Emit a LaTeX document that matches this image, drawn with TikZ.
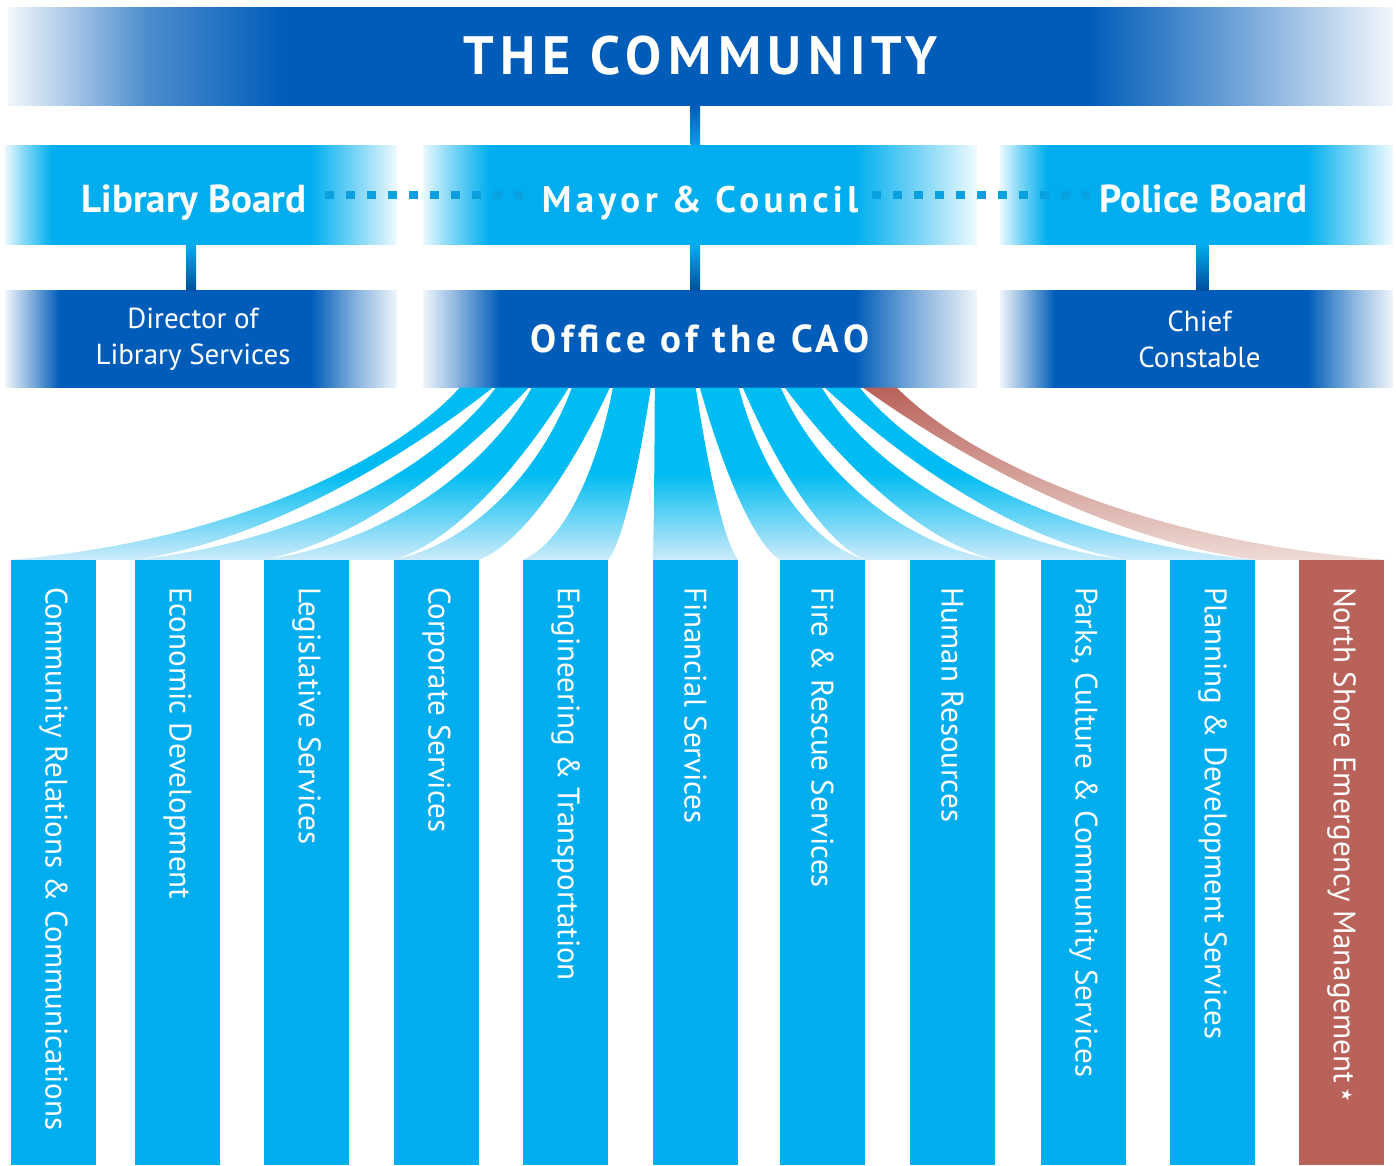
\documentclass[tikz,border=0pt]{standalone}
\usepackage{fontspec}
\setmainfont{PT Sans}
\newfontfamily\spaced[LetterSpace=12]{PT Sans}
\newfontfamily\starfont{DejaVu Sans}
\usetikzlibrary{calc,positioning}

\definecolor{cobalt}{HTML}{005CB9}
\definecolor{cyanbox}{HTML}{00AEEF}
\definecolor{fantop}{HTML}{00BCF2}
\definecolor{fanlow}{HTML}{CDEBFA}
\definecolor{rust}{HTML}{B9625A}
\definecolor{rustlow}{HTML}{EEDBD6}
\definecolor{dotblue}{HTML}{0AA0DF}

\pgfdeclarehorizontalshading{bannerfade}{100bp}{color(0bp)=(cobalt!5!white); color(25bp)=(cobalt!5!white);
  color(30bp)=(cobalt!70!white); color(35bp)=(cobalt); color(64bp)=(cobalt);
  color(69.5bp)=(cobalt!55!white); color(75bp)=(cobalt!5!white); color(100bp)=(cobalt!5!white)}
\pgfdeclarehorizontalshading{cyanfade}{100bp}{color(0bp)=(cyanbox!8!white); color(25bp)=(cyanbox!8!white);
  color(27.5bp)=(cyanbox!50!white); color(31bp)=(cyanbox); color(64bp)=(cyanbox);
  color(70bp)=(cyanbox!50!white); color(75bp)=(cyanbox!6!white); color(100bp)=(cyanbox!6!white)}
\pgfdeclarehorizontalshading{cobaltfade}{100bp}{color(0bp)=(cobalt!6!white); color(25bp)=(cobalt!6!white);
  color(28bp)=(cobalt!45!white); color(32bp)=(cobalt); color(64bp)=(cobalt);
  color(70bp)=(cobalt!45!white); color(75bp)=(cobalt!6!white); color(100bp)=(cobalt!6!white)}
\pgfdeclareverticalshading{bluefan}{100bp}{color(0bp)=(fanlow); color(25bp)=(fanlow);
  color(50bp)=(fantop); color(100bp)=(fantop)}
\pgfdeclareverticalshading{redfan}{100bp}{color(0bp)=(rustlow); color(25bp)=(rustlow);
  color(75bp)=(rust); color(100bp)=(rust)}

\begin{document}
\begin{tikzpicture}[x=1pt, y=-1pt,
    banner/.style={shade, shading=bannerfade, minimum width=1385pt, minimum height=98pt, inner sep=0pt, text=white},
    board/.style={shade, shading=cyanfade, minimum height=99pt, inner sep=0pt, text=white,
      text height=40pt, text depth=5pt, font=\bfseries\fontsize{39}{39}\selectfont},
    office/.style={shade, shading=cobaltfade, minimum height=97pt, inner sep=0pt, text=white, align=center,
      font=\fontsize{29}{36}\selectfont},
    dept/.style={fill=#1, minimum width=85pt, minimum height=605pt, inner sep=0pt},
    depttext/.style={rotate=-90, anchor=west, inner sep=0pt, text=white, font=\fontsize{31}{31}\selectfont},
    dotline/.style={dotblue, line width=8pt, dash pattern=on 9pt off 12pt},
  ]
\useasboundingbox (0,0) rectangle (1396,1165);

% top of the tree
\node[banner] (community) at (700.5,56) {\spaced\bfseries\fontsize{54}{54}\selectfont THE COMMUNITY};

\node[board, minimum width=392pt] (library) at (201,194.5) {Library Board\kern14pt};
\node[board, minimum width=554pt] (mayor) at (700,194.5) {\spaced\fontsize{37}{37}\selectfont Mayor \& Council};
\node[board, minimum width=393pt] (police) at (1196.5,194.5) {\kern14pt Police Board};

\node[office, minimum width=392pt, below=46pt of library] (director) {Director of\kern16pt\\Library Services\kern16pt};
\node[office, minimum width=554pt, below=46pt of mayor] (cao)
  {\spaced\bfseries\fontsize{39}{39}\selectfont Office of the CAO};
\node[office, minimum width=393pt, below=46pt of police] (chief) {\kern6pt Chief\\\kern6pt Constable};

% stems between the boxes
\shade[top color=cobalt, bottom color=cyanbox!80!cobalt] ($(community.south)+(-10,0)$) rectangle (mayor.north);
\shade[top color=cyanbox, bottom color=cobalt!85!black] ($(library.south)+(-15,0)$) rectangle ($(director.north)+(-5,0)$);
\shade[top color=cyanbox, bottom color=cobalt!85!black] ($(mayor.south)+(-10,0)$) rectangle (cao.north);
\shade[top color=cyanbox, bottom color=cobalt!85!black] (police.south) rectangle ($(chief.north)+(12,0)$);

\draw[dotline] ($(library.east)+(-72,0)$) -- ($(mayor.west)+(108,0)$);
\draw[dotline] ($(mayor.east)+(-105,0)$) -- ($(police.west)+(90,0)$);

% departments
\foreach \name/\x/\clr/\txt in {
    comms/53.5/cyanbox/{Community Relations \& Communications},
    econ/177.5/cyanbox/{Economic Development},
    legis/306.5/cyanbox/{Legislative Services},
    corp/436.5/cyanbox/{Corporate Services},
    eng/565.5/cyanbox/{Engineering \& Transportation},
    fin/695.5/cyanbox/{Financial Services},
    fire/822.5/cyanbox/{Fire \& Rescue Services},
    hr/952.5/cyanbox/{Human Resources},
    parks/1083.5/cyanbox/{Parks, Culture \& Community Services},
    plan/1212.5/cyanbox/{Planning \& Development Services},
    nsem/1341.5/rust/{North Shore Emergency Management\,\raisebox{.25em}{\starfont\fontsize{15}{15}\selectfont ★}}}
{
  \node[dept=\clr] (\name) at (\x,862.5) {};
  \node[depttext] at ($(\name.north)+(0,27)$) {\txt};
}

% fan from the CAO down to each department
\foreach \tl/\tr/\bl/\br/\s/\fan in {
    37/70/comms.north west/econ.north west/1/bluefan,
    73/106/econ.north west/legis.north west/1/bluefan,
    109/146/legis.north west/corp.north west/1/bluefan,
    149/187/corp.north west/corp.north east/1/bluefan,
    190/228/eng.north west/eng.north east/1/bluefan,
    232/273/fin.north west/fin.north east/1/bluefan,
    277/316/fire.north west/fire.north east/-1/bluefan,
    320/358/fire.north east/hr.north east/-1/bluefan,
    362/399/hr.north east/parks.north east/-1/bluefan,
    402/437/parks.north east/plan.north east/-1/bluefan,
    440/474/plan.north east/nsem.north east/-1/redfan}
{
  \shade[shading=\fan] let \p1=(cao.south west), \p2=(\bl), \p3=(\br) in
    ({\x1+\tl},\y1)
    .. controls ({\x1+\tl+(0.18-0.05*(\s))*(\x2-\x1-\tl)},{\y1-65}) and ({\x1+\tl+(0.55-0.07*(\s))*(\x2-\x1-\tl)},{\y2+20}) .. (\p2)
    -- (\p3)
    .. controls ({\x1+\tr+(0.55+0.07*(\s))*(\x3-\x1-\tr)},{\y3+20}) and ({\x1+\tr+(0.18+0.05*(\s))*(\x3-\x1-\tr)},{\y1-65}) .. ({\x1+\tr},\y1)
    -- cycle;
}
\end{tikzpicture}
\end{document}
